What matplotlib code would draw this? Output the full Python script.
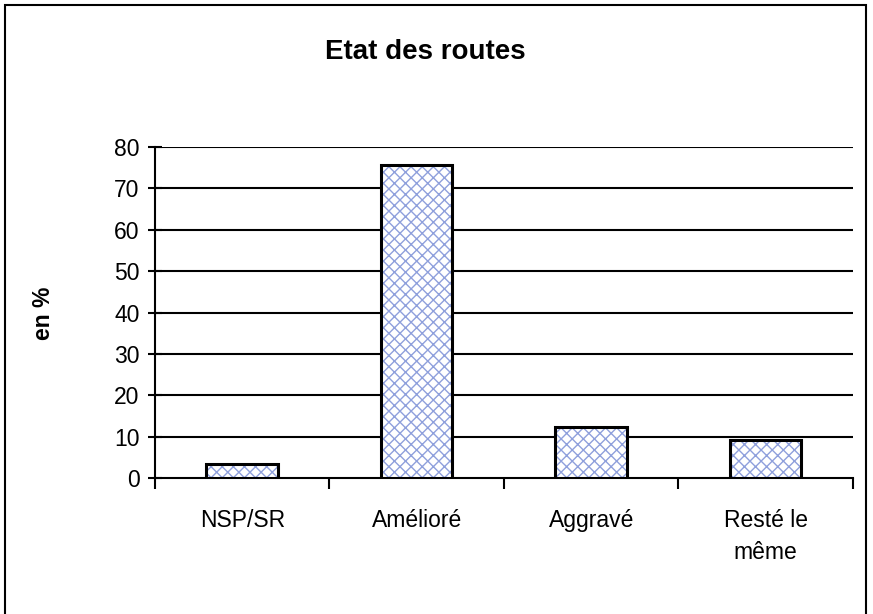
import matplotlib
matplotlib.use('Agg')
import matplotlib.pyplot as plt
from matplotlib.patches import Rectangle

categories = ['NSP/SR', 'Amélioré', 'Aggravé', 'Resté le\nmême']
values = [3.5, 75.7, 12.4, 9.2]
yticks = [0, 10, 20, 30, 40, 50, 60, 70, 80]

plt.rcParams['font.family'] = ['Liberation Sans', 'DejaVu Sans']
plt.rcParams['hatch.linewidth'] = 1.0

fig = plt.figure(figsize=(8.73, 6.14), dpi=100)
ax = fig.add_axes([0.1775, 0.221, 0.7995, 0.5397])

x = list(range(len(categories)))
# hatched fill in blue, then black outline on top
ax.bar(x, values, width=0.41, color='white', edgecolor='#8fa0dc',
       hatch='xxx', linewidth=0, zorder=3)
ax.bar(x, values, width=0.41, fill=False, edgecolor='black',
       linewidth=2.2, zorder=4)

ax.set_xlim(-0.5, 3.5)
ax.set_ylim(0, 80)
ax.set_yticks(yticks)
for t in yticks[1:]:
    ax.axhline(t, color='black', linewidth=1.5, zorder=1)

ax.set_xticks([-0.5, 0.5, 1.5, 2.5, 3.5])
ax.set_xticklabels([])
ax.set_xticks(x, minor=True)
ax.set_xticklabels(categories, minor=True, fontsize=16.5, linespacing=1.5, va='top')
ax.tick_params(axis='x', which='minor', length=0, pad=22)
ax.tick_params(axis='x', which='major', length=8, width=1.5, direction='out')
ax.tick_params(axis='y', length=10, width=1.5, direction='inout', labelsize=16.5, pad=6)

for s in ['top', 'right']:
    ax.spines[s].set_visible(False)
for s in ['left', 'bottom']:
    ax.spines[s].set_linewidth(1.5)

fig.text(0.487, 0.915, 'Etat des routes', ha='center', va='center',
         fontsize=20, fontweight='bold')
fig.text(0.05, 0.49, 'en %', ha='center', va='center', rotation=90,
         fontsize=16.5, fontweight='bold')

# chart area frame
fig.patches.append(Rectangle((5 / 873, -0.1), 861 / 873, 1.1 - 5 / 614,
                             transform=fig.transFigure, fill=False,
                             edgecolor='black', linewidth=1.5))

fig.savefig('out.png', dpi=100)
